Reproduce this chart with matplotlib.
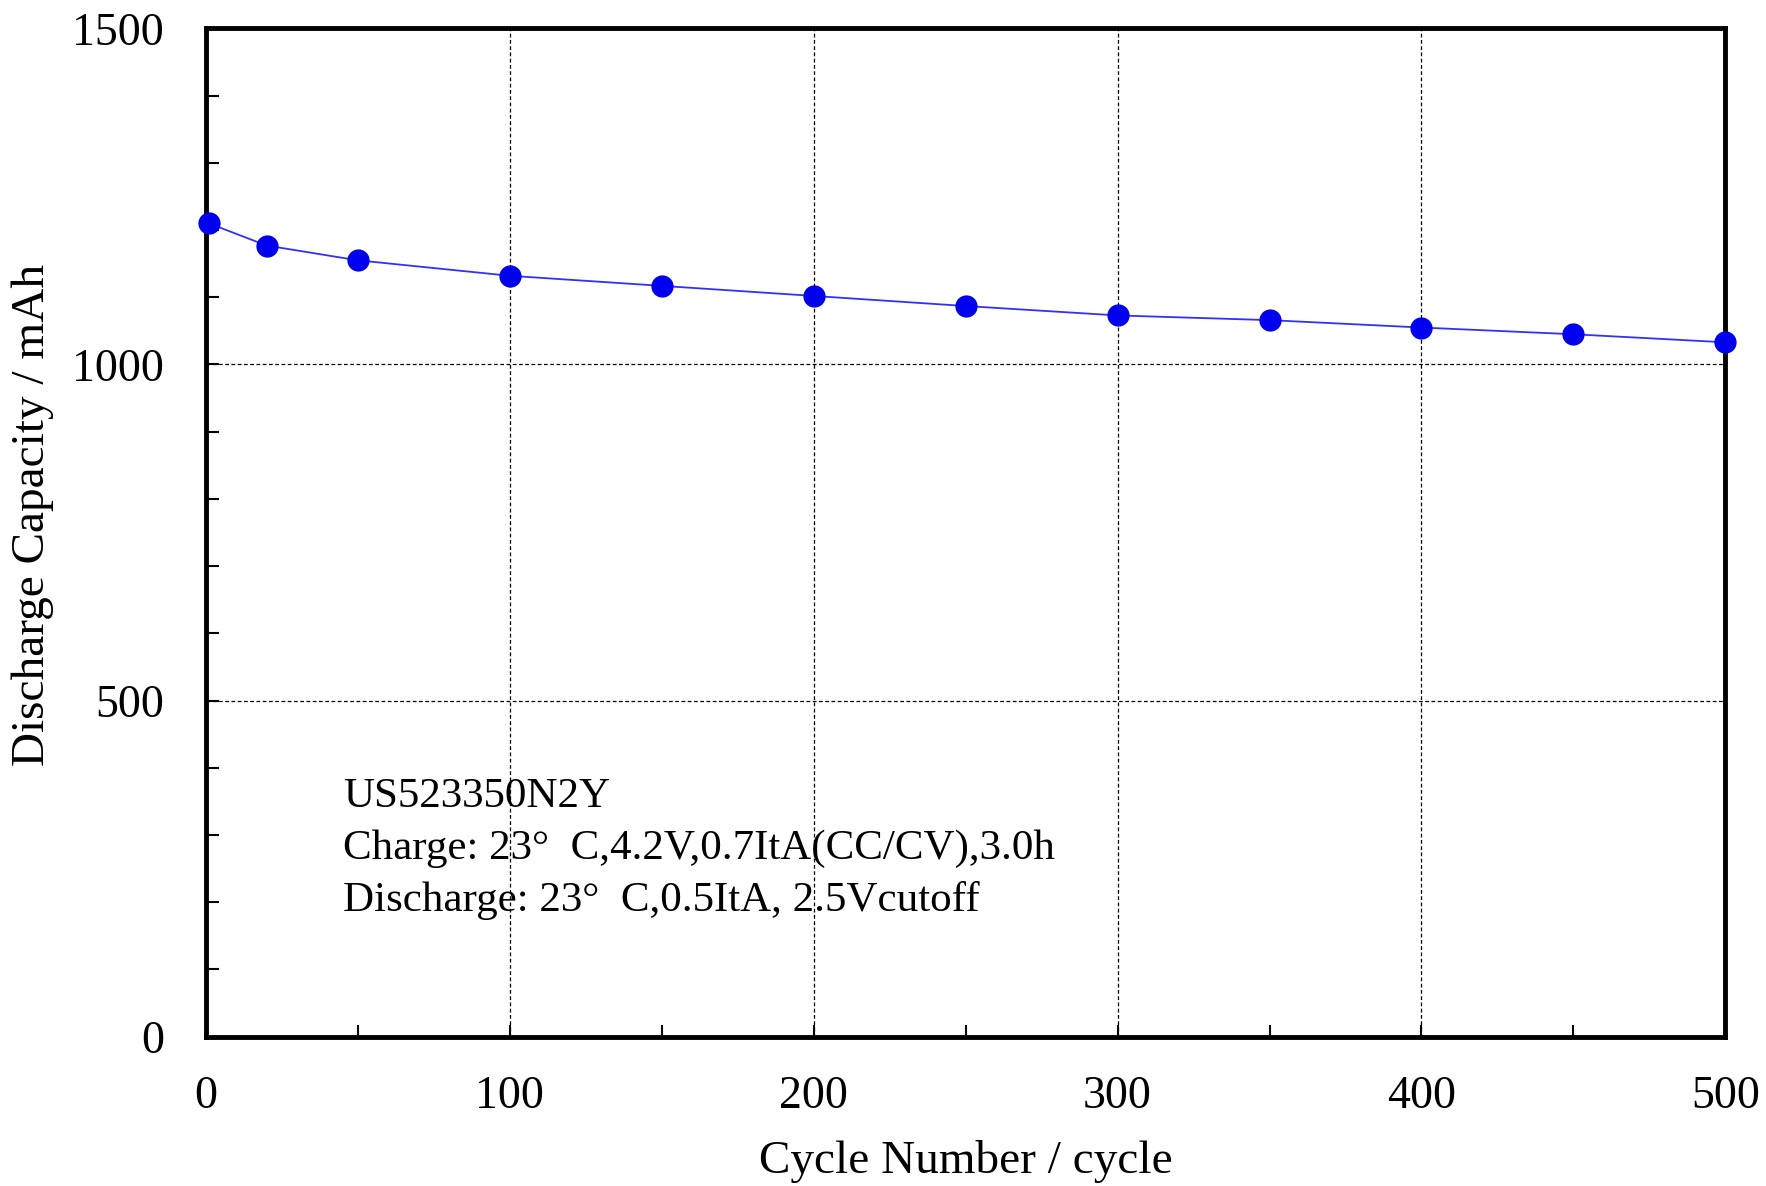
import numpy as np
import matplotlib.pyplot as plt
from matplotlib.ticker import MultipleLocator

cycles = [1, 20, 50, 100, 150, 200, 250, 300, 350, 400, 450, 500]
capacity = [1210, 1177, 1155, 1132, 1117, 1102, 1087, 1073, 1066, 1055, 1045, 1033]

info = ["US523350N2Y",
        "Charge: 23°  C,4.2V,0.7ItA(CC/CV),3.0h",
        "Discharge: 23°  C,0.5ItA, 2.5Vcutoff"]

plt.rcParams['font.family'] = ['Liberation Serif', 'DejaVu Serif']

fig = plt.figure(figsize=(17.66, 11.86), dpi=100)
ax = fig.add_axes([0.1166, 0.126, 0.8604, 0.85])

ax.plot(cycles, capacity, color='#3030ff', lw=1.3, marker='o',
        markersize=15, markerfacecolor='#0000ee', markeredgecolor='#0000ee',
        clip_on=False, zorder=5)

ax.set_xlim(0, 500)
ax.set_ylim(0, 1500)
ax.xaxis.set_major_locator(MultipleLocator(100))
ax.xaxis.set_minor_locator(MultipleLocator(50))
ax.yaxis.set_major_locator(MultipleLocator(500))
ax.yaxis.set_minor_locator(MultipleLocator(100))
ax.tick_params(which='both', direction='in', width=1.5, labelsize=33)
ax.tick_params(which='major', length=9, pad=28)
ax.tick_params(which='minor', length=9)
ax.tick_params(axis='y', pad=30)

for s in ax.spines.values():
    s.set_linewidth(3.5)

ax.grid(True, which='major', color='black', linestyle=(0, (3, 2)), lw=0.9)

ax.set_xlabel('Cycle Number / cycle', fontsize=34, labelpad=16)
ax.set_ylabel('Discharge Capacity / mAh', fontsize=34, labelpad=8)
ax.yaxis.set_label_coords(-0.1, 0.517)

for i, line in enumerate(info):
    ax.text(45, 357 - i * 77, line, fontsize=31, va='center', ha='left')

fig.savefig('out.png', dpi=100)
